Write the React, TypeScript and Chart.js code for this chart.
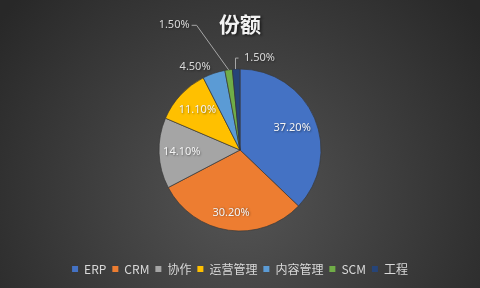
import React, { useEffect, useRef } from 'react';
import { Chart, registerables } from 'chart.js';

Chart.register(...registerables);

const chartTitle = '份额';
const categories = ['ERP', 'CRM', '协作', '运营管理', '内容管理', 'SCM', '工程'];
const shares = [37.2, 30.2, 14.1, 11.1, 4.5, 1.5, 1.5];
const sliceColors = ['#4472C4', '#ED7D31', '#A5A5A5', '#FFC000', '#5B9BD5', '#70AD47', '#264478'];
const shareLabels = ['37.20%', '30.20%', '14.10%', '11.10%', '4.50%', '1.50%', '1.50%'];

// label placement style per slice (not data)
const labelModes = [
  { mode: 'in', f: 0.70 },
  { mode: 'in', f: 0.78 },
  { mode: 'in', f: 0.72 },
  { mode: 'in', f: 0.72 },
  { mode: 'out' },
  { mode: 'leaderLeft' },
  { mode: 'leaderUp' },
];

function shade(hex: string, amt: number): string {
  const n = parseInt(hex.slice(1), 16);
  let r = (n >> 16) & 255, g = (n >> 8) & 255, b = n & 255;
  if (amt >= 0) {
    r = Math.round(r + (255 - r) * amt);
    g = Math.round(g + (255 - g) * amt);
    b = Math.round(b + (255 - b) * amt);
  } else {
    r = Math.round(r * (1 + amt));
    g = Math.round(g * (1 + amt));
    b = Math.round(b * (1 + amt));
  }
  return `rgb(${r},${g},${b})`;
}

const decorPlugin = {
  id: 'decor',
  beforeDraw(chart: any) {
    const { ctx, width, height } = chart;
    ctx.save();
    const g = ctx.createRadialGradient(width / 2, height * 0.68, 10, width / 2, height * 0.68, width * 0.62);
    g.addColorStop(0, '#535353');
    g.addColorStop(1, '#282828');
    ctx.fillStyle = g;
    ctx.fillRect(0, 0, width, height);
    ctx.font = 'bold 21px "Noto Sans CJK SC"';
    ctx.textAlign = 'center';
    ctx.textBaseline = 'middle';
    ctx.shadowColor = 'rgba(0,0,0,0.65)';
    ctx.shadowBlur = 3;
    ctx.shadowOffsetX = 1.5;
    ctx.shadowOffsetY = 1.5;
    ctx.fillStyle = '#f2f2f2';
    ctx.fillText(chartTitle, width / 2, 24);
    ctx.restore();
  },
  afterDatasetsDraw(chart: any) {
    const { ctx } = chart;
    const meta = chart.getDatasetMeta(0);
    meta.data.forEach((arc: any, i: number) => {
      const { x, y, startAngle, endAngle, outerRadius } = arc.getProps(
        ['x', 'y', 'startAngle', 'endAngle', 'outerRadius'], true);
      const mid = (startAngle + endAngle) / 2;
      const cos = Math.cos(mid), sin = Math.sin(mid);
      const ex = x + outerRadius * cos, ey = y + outerRadius * sin;
      const text = shareLabels[i];
      const m = labelModes[i];
      ctx.save();
      ctx.font = '11px "Noto Sans"';
      ctx.textBaseline = 'middle';
      ctx.shadowColor = 'rgba(0,0,0,0.45)';
      ctx.shadowBlur = 2;
      ctx.shadowOffsetX = 0.8;
      ctx.shadowOffsetY = 0.8;
      if (m.mode === 'in') {
        ctx.fillStyle = '#f4f4f4';
        ctx.textAlign = 'center';
        const r = outerRadius * (m.f as number);
        ctx.fillText(text, x + r * cos, y + r * sin);
      } else if (m.mode === 'out') {
        ctx.fillStyle = '#d9d9d9';
        ctx.textAlign = 'right';
        const r = outerRadius + 10;
        ctx.fillText(text, x + r * cos, y + r * sin + 3);
      } else if (m.mode === 'leaderLeft') {
        const bx = ex - 32, by = ey - 44.5;
        ctx.save();
        ctx.shadowColor = 'transparent';
        ctx.strokeStyle = '#a6a6a6';
        ctx.lineWidth = 1;
        ctx.beginPath();
        ctx.moveTo(ex, ey);
        ctx.lineTo(bx, by);
        ctx.lineTo(bx - 5, by);
        ctx.stroke();
        ctx.restore();
        ctx.fillStyle = '#d9d9d9';
        ctx.textAlign = 'right';
        ctx.fillText(text, bx - 7, by);
      } else if (m.mode === 'leaderUp') {
        const bx = Math.round(ex) - 0.5, by = ey - 11;
        ctx.save();
        ctx.shadowColor = 'transparent';
        ctx.strokeStyle = '#a6a6a6';
        ctx.lineWidth = 1;
        ctx.beginPath();
        ctx.moveTo(bx, ey);
        ctx.lineTo(bx, by);
        ctx.lineTo(bx + 3, by);
        ctx.stroke();
        ctx.restore();
        ctx.fillStyle = '#d9d9d9';
        ctx.textAlign = 'left';
        ctx.fillText(text, bx + 8.5, by - 0.5);
      }
      ctx.restore();
    });
  },
};

export default function App() {
  const ref = useRef<HTMLCanvasElement | null>(null);
  useEffect(() => {
    document.body.style.margin = '0';
    const canvas = ref.current;
    if (!canvas) return;
    const chart = new Chart(canvas, {
      type: 'pie',
      data: {
        labels: categories,
        datasets: [
          {
            data: shares,
            backgroundColor: (c: any) => {
              const ch = c.chart;
              const meta = ch.getDatasetMeta(0);
              const arc = meta && meta.data && meta.data[c.dataIndex];
              const base = sliceColors[c.dataIndex % sliceColors.length];
              if (!arc || !arc.outerRadius) return base;
              const cy = arc.y, r = arc.outerRadius;
              const g = ch.ctx.createLinearGradient(0, cy - r, 0, cy + r);
              g.addColorStop(0, shade(base, 0.18));
              g.addColorStop(1, shade(base, -0.08));
              return g;
            },
            borderColor: 'rgba(55,55,55,0.85)',
            borderWidth: 0.8,
          },
        ],
      },
      options: {
        responsive: false,
        animation: false,
        radius: 81,
        layout: { padding: { top: 43, bottom: 3, left: 0, right: 0 } },
        plugins: {
          title: { display: false },
          tooltip: { enabled: false },
          legend: {
            position: 'bottom',
            labels: {
              boxWidth: 6,
              boxHeight: 6,
              padding: 6,
              color: '#d9d9d9',
              font: { size: 12, family: '"Noto Sans CJK SC"' },
              generateLabels: () =>
                categories.map((c, i) => ({
                  text: c,
                  fillStyle: sliceColors[i],
                  strokeStyle: sliceColors[i],
                  lineWidth: 0,
                  hidden: false,
                  index: i,
                  fontColor: '#d9d9d9',
                })),
            },
          },
        },
      } as any,
      plugins: [decorPlugin],
    });
    return () => chart.destroy();
  }, []);
  return (
    <div style={{ width: 480, height: 288 }}>
      <canvas ref={ref} width={480} height={288} />
    </div>
  );
}
